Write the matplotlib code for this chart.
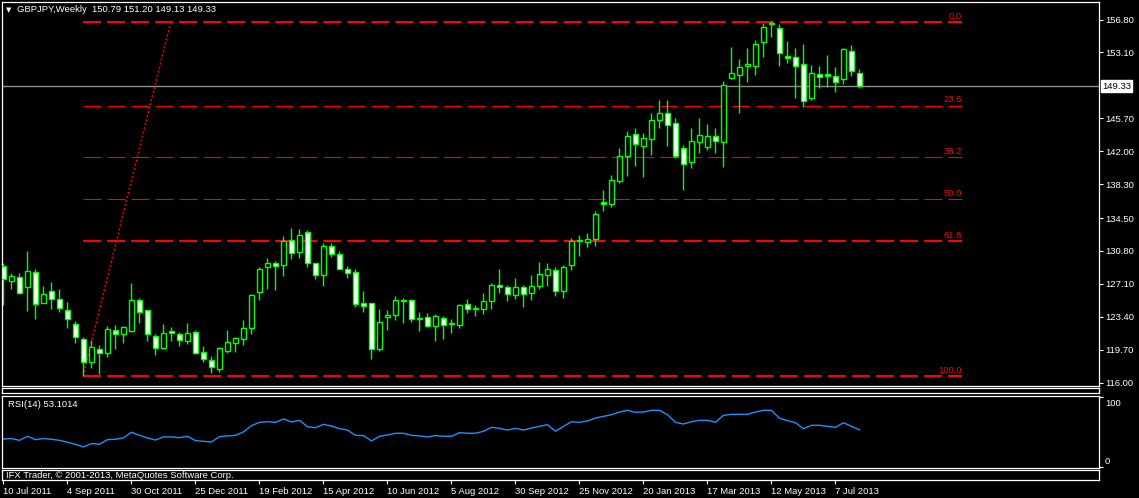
import matplotlib
matplotlib.use('Agg')
import matplotlib.pyplot as plt
import matplotlib.transforms as mtransforms
from matplotlib import font_manager

W, H = 1139, 498

# weekly candles GBPJPY, 10 Jul 2011 .. 28 Jul 2013
opens = [129.06, 127.37, 127.86, 126.73, 128.42, 125.00, 126.28, 125.38, 124.14, 122.57,
         120.88, 118.29, 119.76, 119.38, 121.89, 121.44, 121.86, 125.27, 124.14, 121.22,
         119.94, 121.78, 121.44, 120.73, 121.67, 119.42, 118.52, 117.58, 119.61, 120.50,
         120.96, 122.19, 126.17, 128.98, 129.43, 129.20, 132.05, 130.67, 132.92, 129.43,
         128.08, 131.34, 130.44, 128.76, 128.42, 124.93, 124.93, 119.83, 123.36, 123.66,
         125.19, 125.27, 123.28, 123.36, 122.42, 123.24, 122.68, 122.53, 124.82, 124.26,
         124.26, 125.23, 126.96, 126.73, 125.83, 126.73, 126.05, 126.84, 128.08, 128.64,
         126.28, 129.20, 131.90, 131.79, 132.20, 136.33, 136.06, 138.61, 141.46, 143.94,
         142.55, 143.38, 145.51, 146.30, 145.18, 142.33, 140.75, 143.00, 142.44, 143.71,
         143.00, 150.20, 150.54, 151.59, 151.59, 154.29, 156.39, 155.86, 152.71, 152.60,
         151.81, 147.95, 150.69, 150.69, 150.46, 150.13, 153.28, 150.79]
highs = [129.43, 128.30, 128.30, 130.82, 128.76, 126.88, 127.33, 126.50, 125.08, 122.94,
         121.10, 120.80, 120.24, 122.42, 122.49, 122.42, 127.22, 125.53, 124.14, 121.44,
         122.60, 122.23, 121.70, 122.72, 121.89, 120.13, 118.97, 119.98, 121.93, 121.10,
         123.06, 125.94, 128.98, 129.99, 129.69, 132.43, 133.37, 133.29, 133.14, 129.50,
         131.68, 131.68, 130.78, 129.06, 128.76, 126.32, 124.93, 124.29, 124.18, 125.76,
         125.53, 125.42, 123.96, 123.84, 123.73, 123.50, 123.17, 124.86, 125.42, 124.74,
         126.05, 127.18, 128.79, 126.99, 127.78, 126.99, 128.08, 129.54, 129.43, 128.98,
         129.20, 132.24, 132.62, 132.84, 135.31, 137.64, 139.33, 142.36, 144.31, 144.65,
         144.05, 146.34, 147.80, 147.80, 145.74, 142.70, 144.65, 145.78, 145.06, 144.65,
         149.94, 153.76, 152.38, 153.65, 154.55, 156.46, 156.60, 156.35, 154.44, 153.65,
         154.10, 151.70, 151.63, 152.86, 151.48, 153.55, 153.95, 151.20]
lows = [124.74, 126.54, 125.94, 124.10, 123.20, 124.93, 124.33, 123.99, 122.19, 120.50,
        116.76, 117.62, 117.00, 118.93, 119.83, 120.50, 121.74, 122.76, 120.73, 119.16,
        119.83, 120.73, 120.17, 120.39, 119.20, 118.37, 117.13, 117.24, 119.38, 119.49,
        120.28, 121.52, 125.34, 126.58, 126.36, 128.04, 129.88, 129.96, 128.98, 127.70,
        126.92, 130.10, 128.76, 127.74, 124.48, 123.99, 118.67, 119.61, 121.93, 123.06,
        122.76, 122.87, 121.86, 122.31, 120.73, 120.96, 121.63, 122.19, 123.88, 123.54,
        123.77, 124.33, 126.13, 125.23, 125.38, 124.56, 125.34, 126.58, 126.92, 125.79,
        125.57, 128.68, 130.29, 131.30, 131.41, 135.24, 135.69, 138.39, 139.25, 140.30,
        139.06, 141.61, 144.65, 142.55, 141.20, 137.68, 140.08, 141.80, 142.10, 141.76,
        140.19, 150.09, 146.26, 149.75, 150.54, 152.60, 154.85, 151.55, 151.93, 147.95,
        146.98, 147.73, 149.11, 149.23, 148.63, 149.53, 150.50, 149.13]
closes = [127.63, 127.97, 126.05, 128.53, 124.82, 125.94, 125.38, 124.44, 123.13, 121.10,
          118.29, 119.98, 119.31, 122.00, 121.44, 122.23, 125.27, 123.92, 121.44, 119.87,
          121.55, 121.55, 120.77, 121.55, 119.38, 118.63, 117.73, 119.87, 120.54, 120.99,
          122.12, 125.83, 128.76, 129.43, 129.09, 131.94, 130.55, 132.62, 129.43, 128.08,
          131.34, 130.44, 128.83, 128.30, 124.82, 124.67, 119.76, 122.79, 123.58, 125.27,
          125.22, 123.20, 123.13, 122.42, 123.47, 122.53, 122.57, 124.71, 124.26, 124.37,
          125.16, 126.96, 126.73, 125.94, 126.73, 125.94, 126.84, 128.19, 128.76, 126.28,
          128.98, 131.94, 131.98, 132.13, 134.94, 136.06, 138.76, 141.46, 143.71, 142.81,
          143.49, 145.51, 146.30, 144.95, 141.46, 140.56, 143.15, 143.83, 143.71, 143.15,
          149.45, 150.80, 151.48, 151.81, 154.06, 155.98, 156.31, 153.05, 152.49, 151.59,
          147.65, 150.80, 150.35, 150.43, 149.79, 153.50, 151.03, 149.33]
rsi = [40.1, 40.7, 38.2, 43.9, 39.2, 40.7, 39.7, 38.2, 35.4, 32.6,
       28.8, 33.6, 32.6, 39.2, 39.7, 41.6, 49.6, 45.3, 41.6, 38.7,
       43.0, 43.0, 42.0, 43.9, 37.8, 36.8, 35.9, 43.4, 44.4, 45.3,
       50.1, 59.0, 63.7, 64.6, 63.7, 68.4, 64.2, 66.5, 57.5, 56.1,
       60.8, 58.5, 54.7, 52.8, 45.3, 44.9, 37.3, 43.9, 45.8, 48.2,
       48.2, 45.3, 44.4, 43.0, 44.9, 43.9, 43.9, 49.1, 48.2, 48.2,
       51.0, 56.6, 55.2, 52.8, 55.2, 52.8, 55.7, 58.0, 60.4, 51.0,
       58.0, 64.6, 63.7, 65.6, 69.8, 72.2, 74.5, 78.3, 80.7, 77.8,
       78.3, 80.7, 80.7, 74.5, 63.7, 61.3, 64.6, 66.5, 66.5, 63.7,
       73.6, 75.0, 75.0, 75.0, 78.3, 80.7, 80.7, 69.4, 66.1, 63.2,
       54.7, 59.5, 59.5, 58.0, 56.6, 63.2, 58.0, 53.1]

date_labels = ['10 Jul 2011', '4 Sep 2011', '30 Oct 2011', '25 Dec 2011', '19 Feb 2012',
               '15 Apr 2012', '10 Jun 2012', '5 Aug 2012', '30 Sep 2012', '25 Nov 2012',
               '20 Jan 2013', '17 Mar 2013', '12 May 2013', '7 Jul 2013']
date_ticks = [8 * k for k in range(len(date_labels))]
price_ticks = [156.80, 153.10, 145.70, 142.00, 138.30, 134.50, 130.80, 127.10, 123.40, 119.70, 116.00]
last_price = 149.33

fib_levels = [0.0, 23.6, 38.2, 50.0, 61.8, 100.0]
fib_high, fib_low = 156.49, 116.75
fib_x0, fib_x1, fib_x2 = 9.94, 20.9, 119.8

names = {f.name for f in font_manager.fontManager.ttflist}
FONT = 'Liberation Sans Narrow' if 'Liberation Sans Narrow' in names else 'Liberation Sans'
plt.rcParams['font.family'] = [FONT, 'DejaVu Sans']
FS = 6.8

GREEN = '#00ff00'
fig = plt.figure(figsize=(W / 100, H / 100), dpi=100, facecolor='black')


def px_axes(x0, y0, x1, y1):
    a = fig.add_axes([x0 / W, 1 - y1 / H, (x1 - x0) / W, (y1 - y0) / H])
    a.set_facecolor('black')
    for s in a.spines.values():
        s.set_color('white')
        s.set_linewidth(0.9)
    a.set_xlim(-0.1875, 136.94)
    a.set_xticks([])
    a.set_yticks([])
    return a


# main price window
ax = px_axes(2, 2, 1099, 386)
ax.set_ylim(115.63, 158.77)
n = len(closes)
xs = list(range(n))
ax.vlines(xs, lows, highs, color=GREEN, lw=1, zorder=2)
bottoms = [min(o, c) for o, c in zip(opens, closes)]
heights = [max(abs(c - o), 0.06) for o, c in zip(opens, closes)]
fills = ['white' if c < o else 'black' for o, c in zip(opens, closes)]
ax.bar(xs, heights, bottom=bottoms, width=0.6, color=fills, edgecolor=GREEN, linewidth=1, zorder=3)

ax.axhline(last_price, color='#8c8c8c', lw=1, zorder=1)

for lvl in fib_levels:
    price = fib_high - lvl / 100 * (fib_high - fib_low)
    main = lvl in (0.0, 61.8, 100.0)
    lw = 1.5 if main else 0.8
    ax.plot([fib_x0, fib_x2], [price, price], color='red', lw=lw,
            ls=(0, (13 / lw, 4.3 / lw)), zorder=1)
    ax.annotate(f'{lvl:.1f}', (fib_x2, price), xytext=(0, 1), textcoords='offset points',
                ha='right', va='bottom', color='red', fontsize=FS)
ax.plot([fib_x0, fib_x1], [fib_low, fib_high], color='red', lw=1, ls=(0, (1.5, 1.5)), zorder=1)

ax.yaxis.tick_right()
ax.set_yticks(price_ticks)
ax.set_yticklabels([f'{p:.2f}' for p in price_ticks])
ax.tick_params(axis='y', colors='white', length=3, width=0.8, pad=1.5, labelsize=FS)
tr = mtransforms.blended_transform_factory(ax.transAxes, ax.transData)
ax.text(1 + 3 / 1097, last_price, f'{last_price:.2f}', transform=tr, ha='left', va='center',
        color='black', fontsize=FS, clip_on=False,
        bbox=dict(boxstyle='square,pad=0.15', fc='white', ec='white'))

fig.text(6 / W, 1 - 10 / H, '\u25bc', color='white', fontsize=5, va='center', ha='left',
         family='DejaVu Sans')
fig.text(17 / W, 1 - 10 / H, 'GBPJPY,Weekly  150.79 151.20 149.13 149.33', color='white',
         fontsize=FS, va='center', ha='left')

# empty separator window
px_axes(2, 388.3, 1099, 393.3)

# RSI window
ar = px_axes(2, 395.5, 1099, 468)
ar.set_ylim(-1.0, 101.7)
ar.plot(xs, rsi, color='#1e90ff', lw=1)
ar.yaxis.tick_right()
ar.set_yticks([0, 100])
ar.set_yticklabels([])
ar.tick_params(axis='y', colors='white', length=3, width=0.8)
ar.text(6 / 1097, 0.87, 'RSI(14) 53.1014', transform=ar.transAxes, color='white',
        fontsize=FS, va='center', ha='left')
fig.text(1105 / W, 1 - 403 / H, '100', color='white', fontsize=FS, va='center', ha='left')
fig.text(1105 / W, 1 - 461.5 / H, '0', color='white', fontsize=FS, va='center', ha='left')

# copyright bar with the date axis
ac = px_axes(2, 470, 1099, 480)
ac.text(4 / 1097, 0.45, 'IFX Trader, \u00a9 2001-2013, MetaQuotes Software Corp.',
        transform=ac.transAxes, color='white', fontsize=FS, va='center', ha='left')
ac.set_xticks(date_ticks)
ac.set_xticklabels(date_labels, ha='left')
ac.tick_params(axis='x', colors='white', length=3, width=0.8, pad=2, labelsize=FS)

fig.savefig('out.png', dpi=100, facecolor='black')
